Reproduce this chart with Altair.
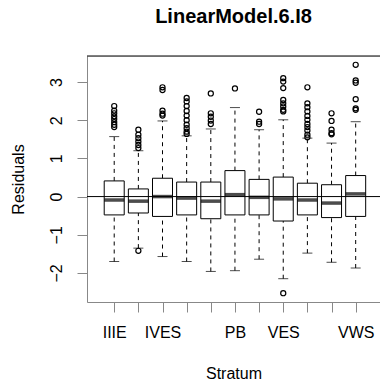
import altair as alt
import pandas as pd

# Strata (only some labels are drawn, as in R's boxplot with overlapping labels dropped)
strata = ["IIIE", "IIIW", "IVES", "IVWS", "OB", "PB", "VE", "VES", "VEW", "VW", "VWS"]
shown = ["IIIE", "IVES", "PB", "VES", "VWS"]
positions = list(range(1, 12))

lower_whisk = [-1.70, -1.35, -1.57, -1.70, -1.96, -1.94, -1.64, -2.15, -1.48, -1.72, -1.87]
q1 = [-0.48, -0.43, -0.52, -0.48, -0.58, -0.48, -0.48, -0.64, -0.48, -0.55, -0.52]
median = [-0.09, -0.12, 0.00, -0.04, -0.12, 0.05, -0.02, -0.06, -0.09, -0.17, 0.07]
q3 = [0.41, 0.20, 0.48, 0.38, 0.38, 0.68, 0.45, 0.51, 0.35, 0.31, 0.55]
upper_whisk = [1.57, 1.20, 1.98, 1.59, 1.77, 2.33, 1.75, 2.01, 1.53, 1.40, 1.96]

outliers = {
    1: [2.37, 2.25, 2.18, 2.10, 2.03, 1.95, 1.88, 1.82],
    2: [1.75, 1.62, 1.53, 1.44, 1.35, 1.27, -1.42],
    3: [2.86, 2.79, 2.25, 2.17, 2.12],
    4: [2.58, 2.49, 2.37, 2.24, 2.12, 2.00, 1.88, 1.79, 1.70, 1.64],
    5: [2.70, 2.18, 2.09, 1.99, 1.90],
    6: [2.83],
    7: [2.22, 1.96, 1.90],
    8: [3.10, 3.01, 2.84, 2.53, 2.44, 2.36, 2.27, 2.23, -2.53],
    9: [2.86, 2.44, 2.34, 2.23, 2.11, 2.01, 1.90, 1.82, 1.73, 1.62, 1.55],
    10: [2.18, 1.98, 1.75, 1.66, 1.63],
    11: [3.45, 3.04, 2.98, 2.55, 2.31, 2.27],
}

stats = pd.DataFrame({
    "pos": positions, "stratum": strata, "lower": lower_whisk, "q1": q1,
    "median": median, "q3": q3, "upper": upper_whisk,
})
out_df = pd.DataFrame(
    [{"pos": p, "value": v} for p, vals in outliers.items() for v in vals]
)
zero_df = pd.DataFrame({"y": [0]})

FONT = "Liberation Sans"
label_map = "{" + ",".join(f"'{p}':'{s}'" for p, s in zip(positions, strata) if s in shown) + "}"

xscale = alt.Scale(domain=[0.08, 11.8], nice=False, zero=False)
yscale = alt.Scale(domain=[-2.76, 3.68], nice=False, zero=False)

xaxis = alt.Axis(
    values=positions, labelExpr=f"({label_map})[''+datum.value] || ''",
    title="Stratum", grid=False, tickSize=10, labelPadding=12,
    titlePadding=25, labelFontSize=16, titleFontSize=16, labelFlush=False,
    labelOverlap=False, titleFontWeight="normal", labelFont=FONT, titleFont=FONT,
)
yaxis = alt.Axis(
    values=[-2, -1, 0, 1, 2, 3], title="Residuals", grid=False, tickSize=10,
    labelAngle=270, labelAlign="center", labelBaseline="bottom", labelPadding=13,
    labelFontSize=16, titleFontSize=16, titlePadding=22, titleFontWeight="normal",
    labelFont=FONT, titleFont=FONT, labelOverlap=False,
)


def X(field="pos"):
    return alt.X(f"{field}:Q", scale=xscale, axis=xaxis)


def Y(field):
    return alt.Y(f"{field}:Q", scale=yscale, axis=yaxis)


base = alt.Chart(stats)

whisk_up = base.mark_rule(color="black", strokeDash=[4, 4], strokeWidth=1).encode(
    x=X(), y=Y("q3"), y2="upper:Q"
)
whisk_lo = base.mark_rule(color="black", strokeDash=[4, 4], strokeWidth=1).encode(
    x=X(), y=Y("lower"), y2="q1:Q"
)
cap_up = base.mark_tick(color="black", orient="horizontal", size=10, thickness=1).encode(
    x=X(), y=Y("upper")
)
cap_lo = base.mark_tick(color="black", orient="horizontal", size=10, thickness=1).encode(
    x=X(), y=Y("lower")
)
boxes = base.mark_bar(size=20, fill="white", stroke="black", strokeWidth=1).encode(
    x=X(), y=Y("q1"), y2="q3:Q"
)
meds = base.mark_tick(color="black", orient="horizontal", size=20, thickness=3.5).encode(
    x=X(), y=Y("median")
)
pts = alt.Chart(out_df).mark_point(
    shape="circle", filled=False, color="black", size=26, strokeWidth=1.2, opacity=1
).encode(x=X(), y=Y("value"))
zero = alt.Chart(zero_df).mark_rule(color="black", strokeWidth=1).encode(y=Y("y"))
top = alt.Chart(zero_df).mark_rule(color="black", strokeWidth=1).encode(
    y=alt.value(0), x=alt.value(0), x2=alt.value(293)
)

chart = alt.layer(whisk_up, whisk_lo, cap_up, cap_lo, boxes, meds, pts, zero, top).properties(
    width=293, height=246,
    title=alt.Title("LinearModel.6.I8", fontSize=20, font=FONT, fontWeight="bold",
                    anchor="middle", offset=29, color="black"),
    autosize=alt.AutoSizeParams(type="none"),
    padding={"left": 87, "top": 56, "right": 0, "bottom": 88},
).configure_view(stroke=None).configure_axis(
    labelColor="black", titleColor="black",
    domainColor="black", tickColor="black",
).configure(background="white")

chart.save("out.html", embed_options={"renderer": "svg", "actions": False})
